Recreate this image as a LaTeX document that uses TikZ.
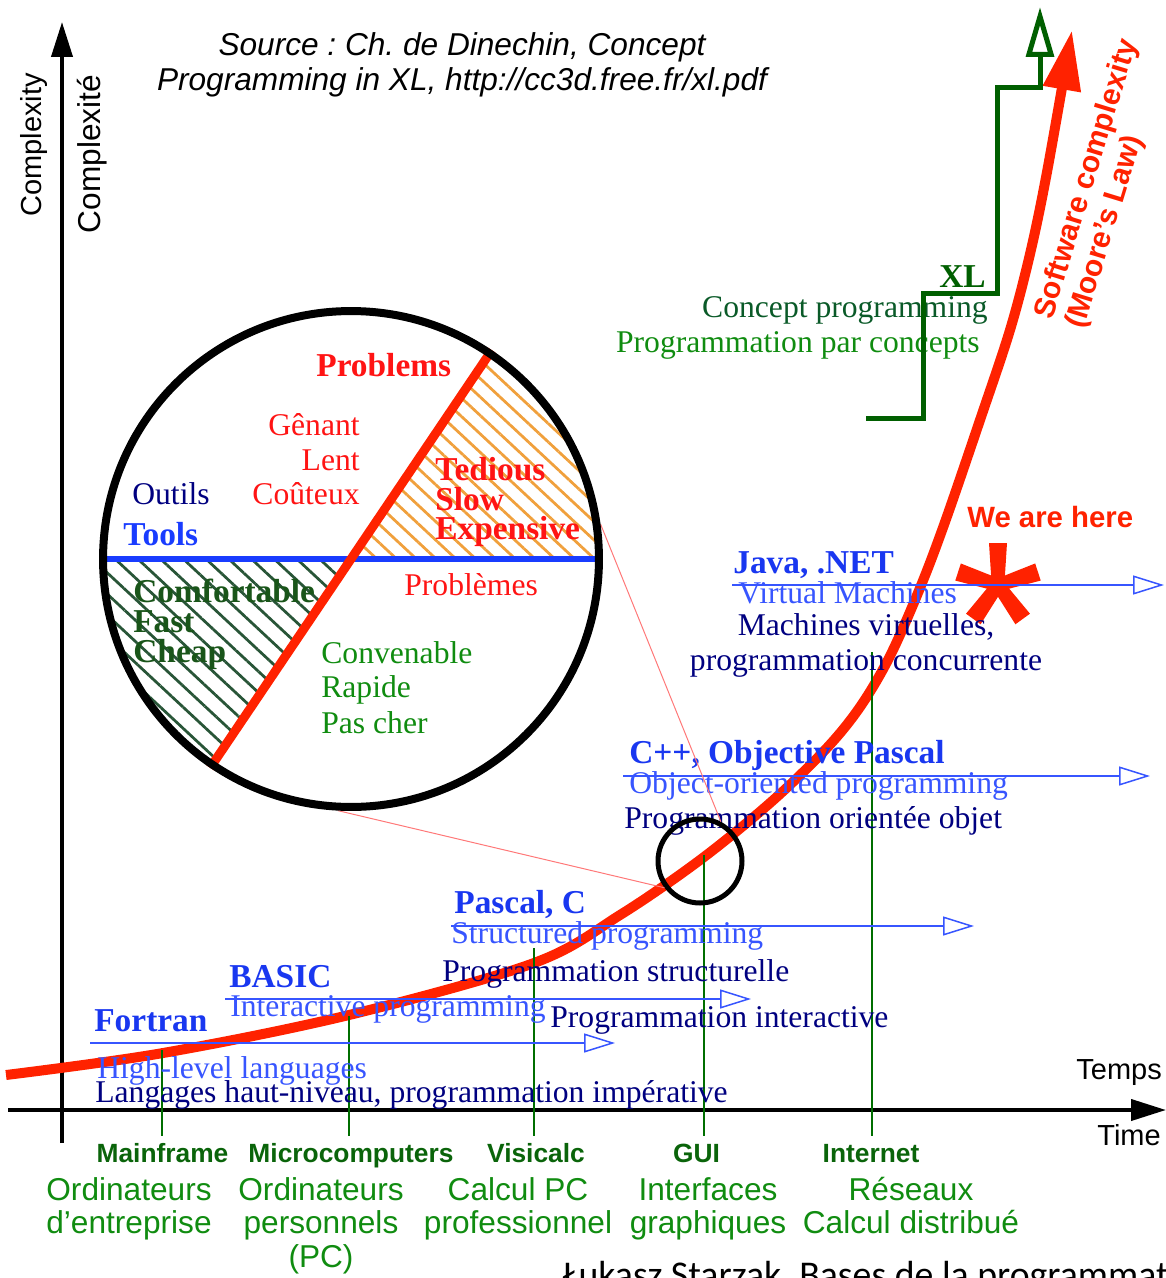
\documentclass[tikz,border=0pt]{standalone}
\usepackage{fontspec}
\setmainfont{Liberation Serif}
\setsansfont{Liberation Sans}
\newfontfamily\footfont{Carlito}
\usetikzlibrary{arrows.meta,patterns.meta}
\frenchspacing

\definecolor{curvered}{RGB}{255,34,0}
\definecolor{textred}{RGB}{255,20,20}
\definecolor{langblue}{RGB}{25,55,240}
\definecolor{engblue}{RGB}{55,85,255}
\definecolor{frnavy}{RGB}{0,0,128}
\definecolor{stepgreen}{RGB}{0,95,0}
\definecolor{tickgreen}{RGB}{0,110,0}
\definecolor{eragreen}{RGB}{10,100,10}
\definecolor{frgreen}{RGB}{16,140,16}
\definecolor{conceptgreen}{RGB}{10,90,40}
\definecolor{comfgreen}{RGB}{25,85,25}
\definecolor{hatchorange}{RGB}{240,160,60}
\definecolor{hatchgreen}{RGB}{40,85,55}
\definecolor{pinkline}{RGB}{255,120,120}
\definecolor{wheelblue}{RGB}{25,60,255}

\tikzset{
  lang/.style={font=\bfseries\fontsize{19}{21}\selectfont, text=langblue, anchor=base west, inner sep=0pt},
  eng/.style={font=\fontsize{18}{20}\selectfont, text=engblue, anchor=base west, inner sep=0pt},
  fra/.style={font=\fontsize{18}{20}\selectfont, text=frnavy, anchor=base west, inner sep=0pt},
  wheeltxt/.style={font=\fontsize{18}{20}\selectfont, anchor=base west, inner sep=0pt},
  wheelbold/.style={font=\bfseries\fontsize{19}{21}\selectfont, anchor=base west, inner sep=0pt},
  era/.style={font=\sffamily\bfseries\fontsize{15}{17}\selectfont, text=eragreen, anchor=base, inner sep=0pt},
  erafr/.style={font=\sffamily\fontsize{18}{20}\selectfont, text=frgreen, anchor=base, inner sep=0pt},
  evo/.style={engblue, line width=0.03cm, -{Triangle[open,length=0.62cm,width=0.38cm]}},
  tick/.style={tickgreen, line width=0.03cm},
  axis/.style={line width=0.08cm, -{Triangle[length=0.7cm,width=0.42cm]}}
}

\begin{document}
\begin{tikzpicture}[x=0.02cm, y=-0.02cm]
\useasboundingbox (0,0) rectangle (1166,1278);

% axes
\draw[axis] (62,1143) -- (62,22);
\draw[axis] (8,1110) -- (1166,1110);
\node[font=\sffamily\fontsize{16.5}{18}\selectfont, rotate=90] (complexity) at (34,145) {Complexity};
\node[font=\sffamily\fontsize{18}{20}\selectfont, rotate=90] (complexite) at (92,154) {Complexité};
\node[font=\sffamily\fontsize{16.5}{18}\selectfont, anchor=base west, inner sep=0pt] (temps) at (1076,1079) {Temps};
\node[font=\sffamily\fontsize{16.5}{18}\selectfont, anchor=base west, inner sep=0pt] (time) at (1097,1145) {Time};

\node[font=\sffamily\itshape\fontsize{18}{20}\selectfont, anchor=base, inner sep=0pt] (source) at (462,55) {Source : Ch. de Dinechin, Concept};
\node[font=\sffamily\itshape\fontsize{18}{20}\selectfont, anchor=base, inner sep=0pt] (sourceurl) at (462,90) {Programming in XL, http://cc3d.free.fr/xl.pdf};

% software complexity
\draw[curvered, line width=0.2cm, -{Triangle[length=1.2cm,width=0.72cm]}]
  plot[smooth, tension=0.55] coordinates {(6,1075) (163,1053) (349,1015) (534,963) (620,915)
  (700,860) (770,803) (825,750) (860,707) (890,656) (920,588) (945,522)
  (980,420) (1010,330) (1030,254) (1047,172) (1072,30)};
\node[font=\sffamily\bfseries\fontsize{17}{18.8}\selectfont, text=curvered, rotate=73, align=left] (moore) at (1103,184) {Software complexity\\(Moore’s Law)};

\foreach \x/\y in {162/1050, 349/1016, 534/948, 704/855, 872/652}
  \draw[tick] (\x,\y) -- (\x,1136);

% we are here
\foreach \a in {0,72,144,216,288}
  \fill[curvered, rotate around={\a:(998,585)}] (992,590) -- (989,543) -- (1007,543) -- (1004,590) -- cycle;
\node[font=\sffamily\bfseries\fontsize{16.7}{18}\selectfont, text=curvered, anchor=base west, inner sep=0pt] (here) at (967,527) {We are here};

% language generations
\draw[evo] (90,1043) -- (615,1043);
\draw[evo] (225,999) -- (751,999);
\draw[evo] (451,926) -- (974,926);
\draw[evo] (623,776) -- (1150,776);
\draw[evo] (732,585) -- (1164,585);

\node[lang] (fortran) at (94,1031) {Fortran};
\node[eng] (fortranen) at (97,1078) {High-level languages};
\node[fra] (fortranfr) at (95,1102) {Langages haut-niveau, programmation impérative};
\node[lang] (basic) at (229,987) {BASIC};
\node[eng] (basicen) at (230,1016) {Interactive programming};
\node[fra] (basicfr) at (550,1027) {Programmation interactive};
\node[lang] (pascal) at (454,913) {Pascal, C};
\node[eng] (pascalen) at (451,943) {Structured programming};
\node[fra] (pascalfr) at (442,981) {Programmation structurelle};
\node[lang] (cpp) at (629,763) {C++, Objective Pascal};
\node[eng] (cppen) at (629,793) {Object-oriented programming};
\node[fra] (cppfr) at (624,828) {Programmation orientée objet};
\node[lang] (java) at (733,573) {Java, .NET};
\node[eng] (javaen) at (738,603) {Virtual Machines};
\node[fra, anchor=base] (javafr) at (866,635) {Machines virtuelles,};
\node[fra, anchor=base] (javafrb) at (866,670) {programmation concurrente};

% concept programming
\node[wheelbold, text=stepgreen, anchor=base east] (xl) at (986,287) {XL};
\node[wheeltxt, text=conceptgreen, anchor=base east] (concepten) at (988,317) {Concept programming};
\node[wheeltxt, text=frgreen, anchor=base east] (conceptfr) at (980,352) {Programmation par concepts};
\draw[stepgreen, line width=0.1cm, -{Triangle[open,length=1cm,width=0.55cm]}]
  (866,418) -- (923,418) -- (923,293) -- (997,293) -- (997,87) -- (1040,87) -- (1040,7);

% magnified view
\node[circle, minimum size=9.92cm, inner sep=0pt, line width=0.16cm] (wheel) at (351,559) {};
\node[circle, draw, minimum size=1.68cm, inner sep=0pt, line width=0.1cm] (lens) at (700,861) {};
\draw[pinkline, line width=0.02cm] (wheel.8) -- (lens.62);
\draw[pinkline, line width=0.02cm] (wheel.267) -- (lens.217);
\begin{scope}
  \clip (wheel.center) circle[radius=4.96cm];
  \fill[pattern={Lines[angle=-43,distance=0.27cm,line width=0.055cm]}, pattern color=hatchorange]
    (wheel.center) -- (700,559) -- (700,44) -- cycle;
  \fill[pattern={Lines[angle=-43,distance=0.31cm,line width=0.055cm]}, pattern color=hatchgreen]
    (wheel.center) -- (0,559) -- (0,1075) -- cycle;
\end{scope}
\draw[wheelblue, line width=0.13cm] (wheel.west) -- (wheel.east);
\draw[curvered, line width=0.18cm] (wheel.236) -- (wheel.56);
\draw[line width=0.16cm] (wheel.center) circle[radius=4.96cm];

\node[wheelbold, text=textred] (problems) at (316,376) {Problems};
\node[wheeltxt, text=textred, anchor=base east] (genant) at (360,435) {Gênant};
\node[wheeltxt, text=textred, anchor=base east] (lent) at (360,470) {Lent};
\node[wheeltxt, text=textred, anchor=base east] (couteux) at (360,504) {Coûteux};
\node[wheeltxt, text=frnavy] (outils) at (132,504) {Outils};
\node[wheelbold, text=wheelblue] (tools) at (123,545) {Tools};
\node[wheelbold, text=textred] (tedious) at (435,480) {Tedious};
\node[wheelbold, text=textred] (slow) at (435,510) {Slow};
\node[wheelbold, text=textred] (expensive) at (435,539) {Expensive};
\node[wheeltxt, text=textred] (problemes) at (404,595) {Problèmes};
\node[wheelbold, text=comfgreen] (comfortable) at (133,602) {Comfortable};
\node[wheelbold, text=comfgreen] (fast) at (133,632) {Fast};
\node[wheelbold, text=comfgreen] (cheap) at (133,662) {Cheap};
\node[wheeltxt, text=frgreen] (convenable) at (321,663) {Convenable};
\node[wheeltxt, text=frgreen] (rapide) at (321,697) {Rapide};
\node[wheeltxt, text=frgreen] (pascher) at (321,733) {Pas cher};

% eras
\foreach \x/\en in {162.5/Mainframe, 351/Microcomputers, 536/Visicalc, 696.5/GUI, 871/Internet}
  \node[era] (era-\en) at (\x,1162) {\en};
\foreach \x/\one/\two in {129/Ordinateurs/d’entreprise, 321/Ordinateurs/personnels,
    518/Calcul PC/professionnel, 708/Interfaces/graphiques, 911/Réseaux/Calcul distribué} {
  \node[erafr] at (\x,1200) {\one};
  \node[erafr] at (\x,1233) {\two};
}
\node[erafr] (pc) at (321,1267) {(PC)};

\node[font=\footfont\fontsize{21.5}{24}\selectfont, anchor=base west, inner sep=0pt] (credit) at (562,1287) {Łukasz Starzak, Bases de la programmation};
\end{tikzpicture}
\end{document}
